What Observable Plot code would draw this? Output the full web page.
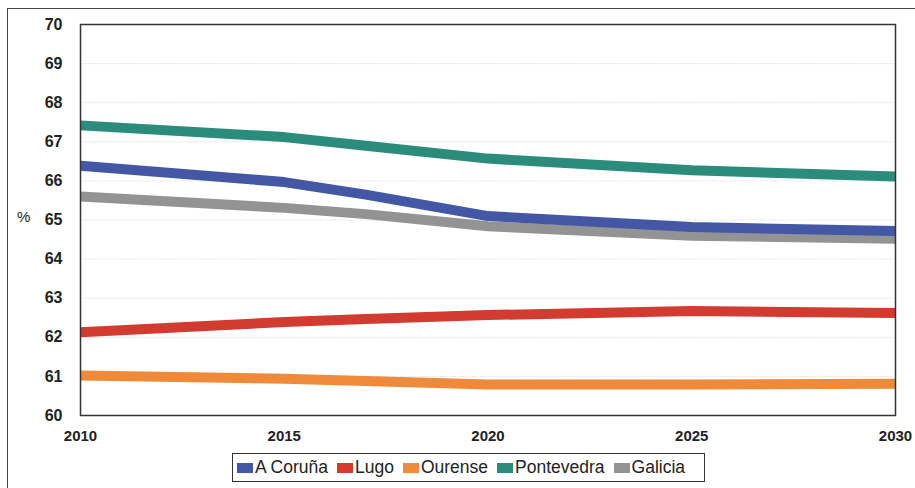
<!DOCTYPE html>
<html>
<head>
<meta charset="utf-8">
<script src="https://cdn.jsdelivr.net/npm/d3@7"></script>
<script src="https://cdn.jsdelivr.net/npm/@observablehq/plot@0.6"></script>
<style>
  html, body { margin: 0; padding: 0; background: #fff; }
  body { font-family: "Liberation Sans", Arial, sans-serif; }
  #wrap { position: relative; width: 915px; height: 488px; overflow: hidden; background: #fff; }
  #frame { position: absolute; left: 7px; top: 8px; width: 920px; height: 500px;
           border-left: 1.5px solid #444; border-top: 1.5px solid #444; box-sizing: border-box; }
  #chart { position: absolute; left: 0; top: 0; }
  #ylab { position: absolute; left: 17px; top: 208px; font-size: 15px; color: #222; }
  #legend { position: absolute; left: 232px; top: 453px; width: 473px; height: 29px; box-sizing: border-box;
            border: 1.5px solid #333; display: flex; align-items: center; padding-left: 4px;
            font-size: 17.5px; color: #222; background: #fff; }
  .item { display: flex; align-items: center; margin-right: 9px; }
  .sw { width: 16px; height: 10px; margin-right: 2px; }
</style>
</head>
<body>
<div id="wrap">
  <div id="frame"></div>
  <div id="chart"></div>
  <div id="ylab">%</div>
  <div id="legend"></div>
</div>
<script>
const years = [2010, 2015, 2017, 2020, 2025, 2030];
const seriesNames = ["A Coruña", "Lugo", "Ourense", "Pontevedra", "Galicia"];
const seriesColors = ["#4357A5", "#D23B30", "#EE8A3A", "#2B8C7C", "#939393"];
const aCoruna    = [66.39, 65.97, 65.65, 65.10, 64.82, 64.72];
const lugo       = [62.13, 62.39, 62.47, 62.57, 62.67, 62.62];
const ourense    = [61.02, 60.94, 60.88, 60.79, 60.79, 60.81];
const pontevedra = [67.42, 67.12, 66.90, 66.57, 66.27, 66.11];
const galicia    = [65.60, 65.31, 65.15, 64.84, 64.60, 64.52];
const yTicks = [60, 61, 62, 63, 64, 65, 66, 67, 68, 69, 70];
const xTicks = [2010, 2015, 2020, 2025, 2030];

const valuesBySeries = {"A Coruña": aCoruna, "Lugo": lugo, "Ourense": ourense, "Pontevedra": pontevedra, "Galicia": galicia};
const drawOrder = ["Galicia", "A Coruña", "Lugo", "Ourense", "Pontevedra"];
const data = [];
for (const s of drawOrder) {
  valuesBySeries[s].forEach((v, i) => data.push({series: s, year: years[i], value: v}));
}

const chart = Plot.plot({
  width: 915,
  height: 445,
  marginLeft: 80,
  marginRight: 20,
  marginTop: 24,
  marginBottom: 30,
  style: {fontFamily: "'Liberation Sans', Arial, sans-serif", background: "transparent", color: "#222"},
  x: {domain: [2010, 2030], ticks: xTicks, tickFormat: d => String(d), label: null},
  y: {domain: [60, 70], ticks: yTicks, label: null},
  color: {domain: seriesNames, range: seriesColors},
  marks: [
    Plot.ruleY(yTicks.filter(t => t > 60 && t < 70), {stroke: "#d4d4d4", strokeWidth: 1, strokeDasharray: "1,1.5"}),
    Plot.line(data, {x: "year", y: "value", z: "series", stroke: "series", strokeWidth: 10, strokeLinejoin: "round", strokeLinecap: "butt"}),
    Plot.frame({stroke: "#333", strokeWidth: 1.5}),
    Plot.axisY({ticks: yTicks, tickSize: 0, tickPadding: 18, fontSize: 16, fontWeight: "bold", label: null}),
    Plot.axisX({ticks: xTicks, tickSize: 0, tickPadding: 15, fontSize: 15, fontWeight: "bold", label: null, tickFormat: d => String(d)})
  ]
});
document.getElementById("chart").appendChild(chart);

const legend = document.getElementById("legend");
seriesNames.forEach((s, i) => {
  const it = document.createElement("div");
  it.className = "item";
  const sw = document.createElement("span");
  sw.className = "sw";
  sw.style.background = seriesColors[i];
  const tx = document.createElement("span");
  tx.textContent = s;
  it.appendChild(sw); it.appendChild(tx);
  legend.appendChild(it);
});
</script>
</body>
</html>
